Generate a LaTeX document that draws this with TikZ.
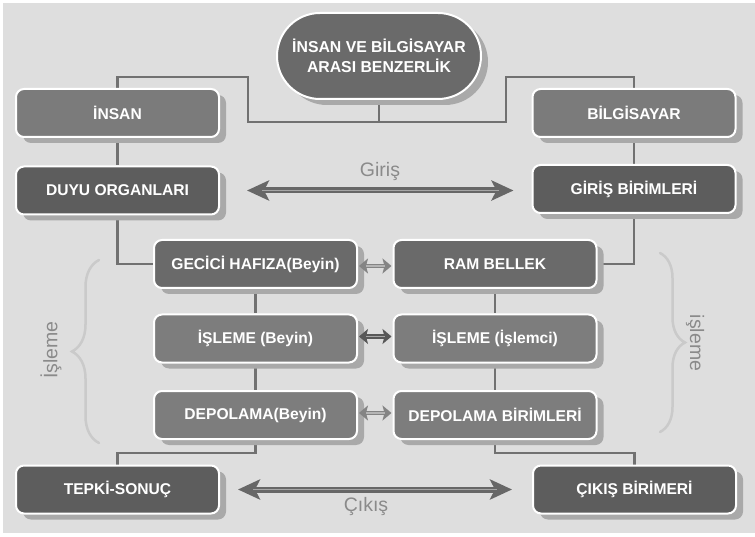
\documentclass[tikz,border=0pt]{standalone}
\usepackage{fontspec}
\setmainfont{Liberation Sans}
\usetikzlibrary{arrows.meta,shadows,decorations.pathreplacing,shapes.misc,calc}
\definecolor{bgc}{HTML}{DEDEDE}
\definecolor{shc}{HTML}{A9A9A9}
\definecolor{linec}{HTML}{717171}
\definecolor{titlec}{HTML}{6A6A6A}
\definecolor{medc}{HTML}{7B7B7B}
\definecolor{darkc}{HTML}{5D5D5D}
\definecolor{midc}{HTML}{6A6A6A}
\definecolor{procc}{HTML}{7D7D7D}
\definecolor{arrc}{HTML}{676767}
\definecolor{stripec}{HTML}{A6A6A6}
\definecolor{lightarr}{HTML}{848484}
\definecolor{lightstripe}{HTML}{B5B5B5}
\definecolor{labelc}{HTML}{8A8A8A}
\definecolor{bracec}{HTML}{CACACA}
\pgfdeclarelayer{bgl}
\pgfdeclarelayer{conl}
\pgfsetlayers{bgl,conl,main}
\begin{document}
\begin{tikzpicture}[x=1pt,y=-1pt,
  boxfont/.style={font=\bfseries\fontsize{15.6}{18}\selectfont},
  box/.style={rectangle, rounded corners=8pt, draw=white, line width=2pt,
    text=white, boxfont, minimum width=203pt, minimum height=48pt, inner sep=0pt,
    drop shadow={shadow xshift=7pt,shadow yshift=-6pt,fill=shc,opacity=1}},
  titlebox/.style={rounded rectangle, draw=white, line width=2pt, fill=titlec,
    text=white, font=\bfseries\fontsize{15.8}{20}\selectfont, align=center,
    minimum width=204pt, minimum height=86pt, inner sep=0pt,
    drop shadow={shadow xshift=7pt,shadow yshift=-6pt,fill=shc,opacity=1}},
  conn/.style={draw=linec, line width=2.3pt},
  bigarr/.style={draw=arrc, line width=6pt,
    arrows={Stealth[length=22pt,width=20pt,inset=5pt]-Stealth[length=22pt,width=20pt,inset=5pt]}},
  bigstripe/.style={draw=stripec, line width=1.8pt},
  smallarr/.style={line width=4.5pt,
    arrows={Stealth[length=9pt,width=15pt,inset=2pt]-Stealth[length=9pt,width=15pt,inset=2pt]}},
  smallstripe/.style={line width=1.4pt},
  lbl/.style={text=labelc, font=\fontsize{19.5}{22}\selectfont, inner sep=0pt},
  bracestyle/.style={draw=bracec, line width=2.5pt, line cap=round,
    decorate, decoration={brace, amplitude=#1}}
]
\begin{pgfonlayer}{bgl}
  \path[fill=white] (0,0) rectangle (755,537);
  \path[fill=bgc] (3,3) rectangle (755,533);
\end{pgfonlayer}
\useasboundingbox (0,0) rectangle (755,537);

% nodes
\node[titlebox] (title) at (379,56) {İNSAN VE BİLGİSAYAR\\ARASI BENZERLİK};
\node[box, fill=medc] (insan) at (117.5,113) {İNSAN};
\node[box, fill=darkc] (duyu) at (117.5,190.5) {DUYU ORGANLARI};
\node[box, fill=medc] (bilgi) at (634,113) {BİLGİSAYAR};
\node[box, fill=darkc] (giris) at (634,189) {GİRİŞ BİRİMLERİ};
\node[box, fill=midc] (gecici) at (255.5,264) {GECİCİ HAFIZA(Beyin)};
\node[box, fill=midc] (ram) at (495,264) {RAM BELLEK};
\node[box, fill=procc] (isleme1) at (255.5,338.5) {İŞLEME (Beyin)};
\node[box, fill=procc] (isleme2) at (495,338.5) {İŞLEME (İşlemci)};
\node[box, fill=procc] (depo1) at (255.5,415) {DEPOLAMA(Beyin)};
\node[box, fill=procc] (depo2) at (495,415) {DEPOLAMA BİRİMLERİ};
\node[box, fill=darkc] (tepki) at (117.5,489.5) {TEPKİ-SONUÇ};
\node[box, fill=darkc] (cikis) at (634.5,489.5) {ÇIKIŞ BİRİMERİ};

\coordinate (tl) at (248,77);
\coordinate (tr) at (506,77);
\coordinate (tm) at (379,122);

% connectors
\begin{pgfonlayer}{conl}
  \draw[conn] (insan.north) |- (tl) |- (tm) -- (title.south);
  \draw[conn] (tm) -| (tr) -| (bilgi.north);
  \draw[conn] (insan) -- (duyu);
  \draw[conn] (duyu.south) |- (gecici.west);
  \draw[conn] (bilgi) -- (giris);
  \draw[conn] (giris.south) |- (ram.east);
  \draw[conn] (gecici) -- (isleme1) -- (depo1);
  \draw[conn] (ram) -- (isleme2) -- (depo2);
  \draw[conn] (depo1.south) -- ++(0,13) -| (tepki.north);
  \draw[conn] (depo2.south) -- ++(0,13) -| (cikis.north);
\end{pgfonlayer}

% big arrows
\draw[bigarr, shorten <=27pt, shorten >=18pt] (duyu.east) -- (duyu.east -| giris.west);
\draw[bigstripe, shorten <=42pt, shorten >=33pt] (duyu.east) -- (duyu.east -| giris.west);
\node[lbl] (girislbl) at (380,172) {Giriş};

\draw[bigarr, shorten <=18pt, shorten >=20pt] (tepki.east) -- (tepki.east -| cikis.west);
\draw[bigstripe, shorten <=33pt, shorten >=35pt] (tepki.east) -- (tepki.east -| cikis.west);
\node[lbl] (cikislbl) at (366,506) {Çıkış};

% small arrows
\draw[smallarr, draw=lightarr, shorten <=1pt, shorten >=1pt] ([yshift=-2pt]gecici.east) -- ([yshift=-2pt]ram.west);
\draw[smallstripe, draw=lightstripe, shorten <=8pt, shorten >=8pt] ([yshift=-2pt]gecici.east) -- ([yshift=-2pt]ram.west);
\draw[smallarr, draw=arrc!85!black, shorten <=1pt, shorten >=1pt] ([yshift=2pt]isleme1.east) -- ([yshift=2pt]isleme2.west);
\draw[smallstripe, draw=stripec, shorten <=8pt, shorten >=8pt] ([yshift=2pt]isleme1.east) -- ([yshift=2pt]isleme2.west);
\draw[smallarr, draw=lightarr, shorten <=1pt, shorten >=1pt] ([yshift=2pt]depo1.east) -- ([yshift=2pt]depo2.west);
\draw[smallstripe, draw=lightstripe, shorten <=8pt, shorten >=8pt] ([yshift=2pt]depo1.east) -- ([yshift=2pt]depo2.west);

% braces
\coordinate (lb1) at (99,443);
\coordinate (lb2) at (99,260);
\draw[bracestyle=27pt] (lb1) -- (lb2);
\node[lbl, rotate=90] (lbrace) at (51,350) {İşleme};
\coordinate (rb1) at (660,253);
\coordinate (rb2) at (660,432);
\draw[bracestyle=25pt] (rb1) -- (rb2);
\node[lbl, rotate=-90] (rbrace) at (695,343) {işleme};
\end{tikzpicture}
\end{document}
